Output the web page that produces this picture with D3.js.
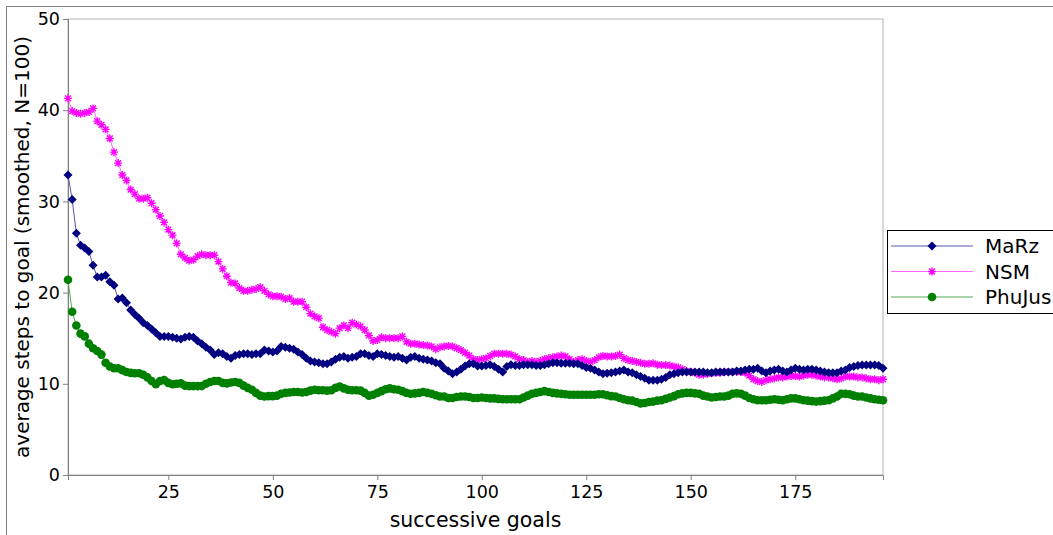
<!DOCTYPE html>
<html>
<head>
<meta charset="utf-8">
<script src="https://cdn.jsdelivr.net/npm/d3@7"></script>
<style>
  body { margin: 0; background: #fff; }
  text { font-family: "DejaVu Sans", sans-serif; }
</style>
</head>
<body>
<div id="chart"></div>
<script>
// series values, one per goal (1..196)
var marz = [32.9,30.2,26.5,25.2,24.9,24.5,23.0,21.7,21.7,21.9,21.2,20.8,19.3,19.4,18.9,18.1,17.6,17.2,16.7,16.4,
  16.0,15.6,15.2,15.2,15.2,15.1,15.0,14.9,15.1,15.2,15.1,14.7,14.4,14.0,13.7,13.2,13.4,13.3,13.0,12.8,
  13.1,13.2,13.3,13.3,13.2,13.3,13.3,13.7,13.6,13.5,13.6,14.1,14.0,13.9,13.8,13.5,13.2,12.8,12.5,12.4,
  12.3,12.2,12.2,12.4,12.7,12.9,13.0,12.8,12.9,13.0,13.3,13.3,13.1,13.0,13.3,13.2,13.1,13.0,12.9,13.0,
  12.8,12.6,12.9,13.0,12.8,12.7,12.6,12.5,12.3,12.2,11.7,11.4,11.1,11.3,11.6,11.95,12.2,12.2,11.95,11.95,
  12.0,12.1,11.9,11.6,11.3,11.9,12.1,12.0,12.0,12.1,12.1,12.1,12.0,12.0,12.1,12.2,12.3,12.3,12.25,12.25,
  12.25,12.2,12.2,12.0,11.8,11.7,11.5,11.3,11.1,11.15,11.2,11.3,11.4,11.5,11.3,11.2,11.0,10.8,10.6,10.4,
  10.4,10.4,10.5,10.7,11.0,11.1,11.2,11.3,11.3,11.3,11.3,11.3,11.3,11.2,11.2,11.3,11.3,11.3,11.3,11.3,
  11.4,11.4,11.5,11.6,11.6,11.7,11.4,11.2,11.4,11.5,11.6,11.4,11.3,11.5,11.7,11.6,11.5,11.6,11.6,11.5,
  11.4,11.3,11.2,11.2,11.2,11.4,11.5,11.8,11.9,12.0,12.05,12.05,12.05,12.05,12.0,11.7];
var nsm = [41.3,39.9,39.7,39.6,39.7,39.8,40.2,38.8,38.4,37.9,36.9,35.4,34.2,32.9,32.3,31.3,30.8,30.3,30.3,30.4,
  29.8,29.1,28.4,27.7,26.9,26.3,25.4,24.2,23.8,23.5,23.6,24.0,24.2,24.1,24.1,24.1,23.4,22.6,21.8,21.1,
  21.0,20.5,20.2,20.2,20.3,20.4,20.6,20.2,19.8,19.6,19.6,19.55,19.3,19.4,19.0,19.0,19.0,18.4,17.7,17.4,
  17.2,16.2,15.9,15.7,15.5,16.1,16.4,16.1,16.7,16.5,16.3,15.9,15.3,14.7,14.8,15.1,15.0,15.0,15.0,15.0,
  15.2,14.6,14.4,14.4,14.3,14.25,14.2,14.1,13.8,14.0,14.1,14.15,14.1,13.9,13.7,13.4,13.1,12.7,12.6,12.7,
  12.8,13.05,13.3,13.3,13.3,13.3,13.2,13.0,12.7,12.6,12.4,12.5,12.4,12.5,12.7,12.8,12.9,13.0,13.1,13.0,
  12.7,12.4,12.6,12.7,12.5,12.4,12.6,12.9,13.05,13.0,13.0,13.05,13.2,12.8,12.6,12.5,12.4,12.3,12.2,12.2,
  12.25,12.1,12.05,12.05,12.0,11.9,11.8,11.6,11.4,11.3,11.2,11.0,11.0,11.1,11.15,11.2,11.2,11.3,11.3,11.3,
  11.3,11.3,11.2,10.9,10.5,10.3,10.2,10.4,10.5,10.6,10.7,10.7,10.8,10.85,10.85,10.8,10.9,11.0,11.0,10.9,
  10.8,10.7,10.7,10.6,10.5,10.6,10.8,10.8,10.8,10.7,10.7,10.6,10.5,10.5,10.4,10.5];
var phujus = [21.4,17.9,16.4,15.5,15.2,14.4,13.9,13.6,13.2,12.3,11.9,11.7,11.7,11.5,11.3,11.2,11.15,11.15,11.0,10.7,
  10.3,9.95,10.3,10.4,10.1,9.95,10.0,10.05,9.8,9.75,9.75,9.75,9.75,10.0,10.2,10.3,10.3,10.1,10.05,10.15,
  10.2,10.1,9.8,9.55,9.35,9.0,8.7,8.6,8.65,8.65,8.7,8.9,9.0,9.05,9.1,9.1,9.05,9.1,9.25,9.35,
  9.3,9.3,9.25,9.3,9.55,9.7,9.5,9.35,9.3,9.3,9.25,9.0,8.7,8.8,9.0,9.2,9.4,9.5,9.4,9.35,
  9.2,9.0,8.9,8.95,9.0,9.1,9.0,8.9,8.75,8.6,8.6,8.45,8.45,8.55,8.6,8.6,8.55,8.45,8.45,8.5,
  8.45,8.4,8.4,8.35,8.3,8.3,8.3,8.3,8.3,8.5,8.7,8.9,9.0,9.1,9.2,9.1,9.0,8.95,8.9,8.85,
  8.8,8.8,8.8,8.8,8.8,8.8,8.8,8.85,8.85,8.75,8.65,8.6,8.45,8.3,8.2,8.15,8.0,7.85,7.9,8.0,
  8.05,8.15,8.2,8.35,8.5,8.65,8.85,8.95,9.0,9.0,8.95,8.9,8.7,8.6,8.5,8.55,8.6,8.6,8.7,8.9,
  8.95,8.9,8.7,8.45,8.3,8.2,8.2,8.2,8.25,8.3,8.25,8.2,8.3,8.4,8.4,8.3,8.2,8.15,8.1,8.05,
  8.1,8.15,8.2,8.4,8.6,8.9,8.9,8.85,8.7,8.6,8.6,8.5,8.4,8.3,8.25,8.2];
var seriesNames = ["MaRz", "NSM", "PhuJus"];
var xTicks = [25, 50, 75, 100, 125, 150, 175];
var yTicks = [0, 10, 20, 30, 40, 50];

var W = 1053, H = 535;
var mLeft = 68, mRight = 883, mTop = 19, mBottom = 475;

var svg = d3.select("#chart").append("svg").attr("width", W).attr("height", H);

// outer frame (runs off the right and bottom of the picture)
svg.append("rect").attr("x", 6.5).attr("y", 6.5).attr("width", W + 20).attr("height", H + 20)
  .attr("fill", "none").attr("stroke", "#808080");

var x = d3.scaleLinear().domain([1, 196]).range([mLeft, mRight]);
var y = d3.scaleLinear().domain([0, 50]).range([mBottom, mTop]);

// plot area border
svg.append("rect").attr("x", mLeft).attr("y", mTop).attr("width", mRight - mLeft).attr("height", mBottom - mTop)
  .attr("fill", "#fff").attr("stroke", "#b3b3b3");

var xAxis = svg.append("g").attr("transform", "translate(0," + mBottom + ")")
  .call(d3.axisBottom(x).tickValues(xTicks).tickSize(5).tickPadding(6));
var yAxis = svg.append("g").attr("transform", "translate(" + mLeft + ",0)")
  .call(d3.axisLeft(y).tickValues(yTicks).tickSize(5).tickPadding(3));
[xAxis, yAxis].forEach(function(a) {
  a.select(".domain").attr("stroke", "#808080");
  a.selectAll(".tick line").attr("stroke", "#808080");
  a.selectAll(".tick text").attr("fill", "#000").style("font-size", "17.5px").style("font-family", "DejaVu Sans");
});

svg.append("text").attr("x", (mLeft + mRight) / 2).attr("y", 527).attr("text-anchor", "middle")
  .style("font-size", "20.5px").text("successive goals");
svg.append("text").attr("transform", "translate(29," + ((mTop + mBottom) / 2) + ") rotate(-90)")
  .attr("text-anchor", "middle").style("font-size", "20px").text("average steps to goal (smoothed, N=100)");

var starPath = "M-4,0H4M0,-4V4M-2.9,-2.9L2.9,2.9M-2.9,2.9L2.9,-2.9";
var series = [
  { name: "MaRz", values: marz, color: "#000080", line: "#5555aa", marker: "diamond" },
  { name: "NSM", values: nsm, color: "#ff00ff", line: "#ff66ff", marker: "star" },
  { name: "PhuJus", values: phujus, color: "#008000", line: "#55aa55", marker: "circle" }
];

function drawMarker(g, type, color) {
  if (type == "diamond") {
    g.append("path").attr("d", "M0,-4.5L4.5,0L0,4.5L-4.5,0Z").attr("fill", color);
  } else if (type == "star") {
    g.append("path").attr("d", starPath).attr("stroke", color).attr("stroke-width", 1.4).attr("fill", "none");
  } else {
    g.append("circle").attr("r", 4.3).attr("fill", color);
  }
}

var line = d3.line().x(function(d, i) { return x(i + 1); }).y(function(d) { return y(d); });

// draw back to front: PhuJus, NSM, MaRz
series.slice().reverse().forEach(function(s) {
  var g = svg.append("g");
  g.append("path").datum(s.values).attr("d", line).attr("fill", "none").attr("stroke", s.line).attr("stroke-width", 1);
  g.selectAll("g.m").data(s.values).enter().append("g").attr("class", "m")
    .attr("transform", function(d, i) { return "translate(" + x(i + 1) + "," + y(d) + ")"; })
    .each(function() { drawMarker(d3.select(this), s.marker, s.color); });
});

// legend
var lg = svg.append("g");
lg.append("rect").attr("x", 887.5).attr("y", 230.5).attr("width", 200).attr("height", 83)
  .attr("fill", "#fff").attr("stroke", "#000");
series.forEach(function(s, i) {
  var yy = 246 + i * 25.5;
  lg.append("line").attr("x1", 891).attr("x2", 973).attr("y1", yy).attr("y2", yy).attr("stroke", s.line);
  var m = lg.append("g").attr("transform", "translate(932," + yy + ")");
  drawMarker(m, s.marker, s.color);
  lg.append("text").attr("x", 985).attr("y", yy + 7).style("font-size", "20px").text(s.name);
});
</script>
</body>
</html>
